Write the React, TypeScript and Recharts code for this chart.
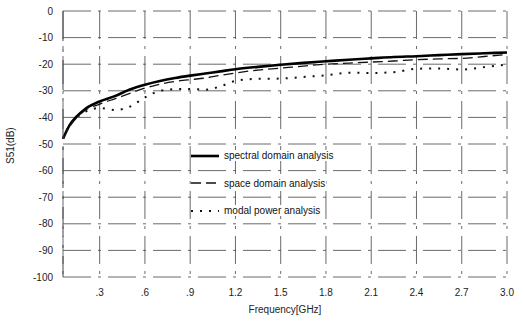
import React from "react";
import { LineChart, Line, XAxis, YAxis, CartesianGrid, Label } from "recharts";

const freq = [0.057, 0.1, 0.15, 0.2, 0.3, 0.4, 0.5, 0.6, 0.7, 0.8, 0.9, 1.0, 1.1, 1.2, 1.35, 1.5, 1.65, 1.8, 1.95, 2.1, 2.25, 2.4, 2.55, 2.7, 2.85, 3.0];
const spectral = [-48, -43, -39.5, -37, -34, -32, -29.5, -27.7, -26.3, -25.2, -24.3, -23.5, -22.7, -21.9, -21, -20.2, -19.5, -18.9, -18.3, -17.8, -17.3, -17, -16.6, -16.2, -15.9, -15.6];
const space = [-48, -43.5, -40, -37.5, -35, -33, -31, -29, -27.5, -26.5, -25.8, -25.2, -24.2, -23.3, -22.2, -21.5, -20.7, -20, -19.6, -19.2, -18.8, -18.3, -18, -17.8, -17.1, -16.3];
const modal = [-48, -43, -40, -38, -36.5, -37.2, -36, -32.5, -30, -29.4, -29.3, -29.6, -28.3, -26.3, -25.5, -25.4, -24.8, -24.2, -23.2, -23.3, -23, -21.7, -21.6, -22, -21.1, -20.1];

const xTicks = [0.3, 0.6, 0.9, 1.2, 1.5, 1.8, 2.1, 2.4, 2.7, 3.0];
const xTickLabels = [".3", ".6", ".9", "1.2", "1.5", "1.8", "2.1", "2.4", "2.7", "3.0"];
const yTicks = [0, -10, -20, -30, -40, -50, -60, -70, -80, -90, -100];
const yTickLabels = ["0", "-10", "-20", "-30", "-40", "-50", "-60", "-70", "-80", "-90", "-100"];
const seriesNames = ["spectral domain analysis", "space domain analysis", "modal power analysis"];

const data = freq.map((f, i) => ({ f, spectral: spectral[i], space: space[i], modal: modal[i] }));

const FONT = "'Liberation Sans', Arial, sans-serif";

const styles = [
  { stroke: "#000", strokeWidth: 2.6, dash: undefined as string | undefined },
  { stroke: "#111", strokeWidth: 1.3, dash: "10 5" },
  { stroke: "#111", strokeWidth: 2, dash: "2 7" },
];

const LegendBox = () => (
  <div style={{ position: "absolute", left: 191, top: 142, fontFamily: FONT, fontSize: 10, color: "#111", background: "transparent" }}>
    {seriesNames.map((n, i) => (
      <div key={n} style={{ display: "flex", alignItems: "center", height: 27.5 }}>
        <svg width={30} height={6} style={{ marginRight: 2 }}>
          <line x1={0} y1={3} x2={28} y2={3} stroke={styles[i].stroke} strokeWidth={styles[i].strokeWidth} strokeDasharray={styles[i].dash} />
        </svg>
        <span style={{ background: "#fff", padding: "0 1px" }}>{n}</span>
      </div>
    ))}
  </div>
);

export default function App() {
  return (
    <div style={{ position: "absolute", left: 0, top: 0, width: 524, height: 327, background: "#fff" }}>
      <LineChart width={524} height={327} data={data} margin={{ top: 11, right: 17, bottom: 20, left: 0 }}>
        <CartesianGrid stroke="#444" strokeWidth={0.8} strokeDasharray="28 7 3 7" />
        <XAxis
          dataKey="f"
          type="number"
          domain={[0.057, 3.0]}
          ticks={xTicks}
          tickFormatter={(v: number) => xTickLabels[xTicks.indexOf(v)] ?? String(v)}
          axisLine={false}
          tickLine={false}
          tick={{ fill: "#222", fontSize: 10, fontFamily: FONT }}
          tickMargin={6}
          height={30}
        >
          <Label value="Frequency[GHz]" position="insideBottom" offset={-6} fill="#222" fontSize={10} fontFamily={FONT} />
        </XAxis>
        <YAxis
          type="number"
          domain={[-100, 0]}
          ticks={yTicks}
          tickFormatter={(v: number) => yTickLabels[yTicks.indexOf(v)] ?? String(v)}
          axisLine={{ stroke: "#444", strokeWidth: 1, strokeDasharray: "30 8 3 8" }}
          tickLine={false}
          tick={{ fill: "#222", fontSize: 10, fontFamily: FONT }}
          tickMargin={4}
          width={63}
        >
          <Label value="S51(dB)" angle={-90} position="insideLeft" offset={10} dy={20} fill="#222" fontSize={10} fontFamily={FONT} />
        </YAxis>
        <Line dataKey="spectral" name={seriesNames[0]} stroke={styles[0].stroke} strokeWidth={styles[0].strokeWidth} dot={false} isAnimationActive={false} type="monotone" />
        <Line dataKey="space" name={seriesNames[1]} stroke={styles[1].stroke} strokeWidth={styles[1].strokeWidth} strokeDasharray={styles[1].dash} dot={false} isAnimationActive={false} type="monotone" />
        <Line dataKey="modal" name={seriesNames[2]} stroke={styles[2].stroke} strokeWidth={styles[2].strokeWidth} strokeDasharray={styles[2].dash} dot={false} isAnimationActive={false} type="monotone" />
      </LineChart>
      <LegendBox />
    </div>
  );
}
